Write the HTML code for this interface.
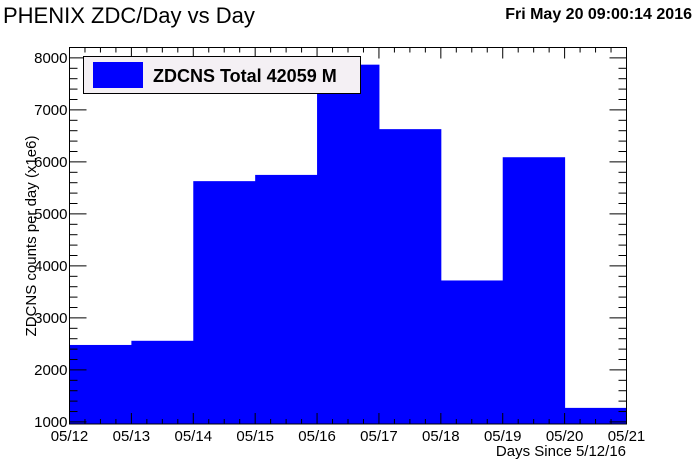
<!DOCTYPE html>
<html><head><meta charset="utf-8"><style>
body{margin:0;background:#fff;}
svg{display:block;font-family:"Liberation Sans",Arial,sans-serif;}
</style></head><body>
<svg id="c" width="696" height="472" viewBox="0 0 696 472">
<rect width="696" height="472" fill="#fff"/>
<text x="3" y="23" font-size="22">PHENIX ZDC/Day vs Day</text>
<text x="692" y="19" font-size="16" font-weight="bold" text-anchor="end">Fri May 20 09:00:14 2016</text>
<g id="bars"></g>
<g id="axes"></g>
<g>
<rect x="83.5" y="56.5" width="277" height="37" fill="#f4f0f4" stroke="#000" stroke-width="1"/>
<rect x="93" y="62" width="50" height="26" fill="#0000ff"/>
<text x="153" y="82" font-size="18" font-weight="bold">ZDCNS Total 42059 M</text>
</g>
<text transform="translate(36,236) rotate(-90)" font-size="15" text-anchor="middle">ZDCNS counts per day (x1e6)</text>
<text x="626" y="456" font-size="15" text-anchor="end">Days Since 5/12/16</text>
</svg>
<script>
const dayLabels=["05/12","05/13","05/14","05/15","05/16","05/17","05/18","05/19","05/20","05/21"];
const values=[2480,2560,5630,5750,7870,6630,3720,6090,1270];
const yTicks=[1000,2000,3000,4000,5000,6000,7000,8000];
const L=69.5,R=626.5,T=47.5,B=424,yMin=960,yMax=8200;
const NS="http://www.w3.org/2000/svg";
const xs=i=>L+i*(R-L)/values.length;
const ys=v=>B-(v-yMin)*(B-T)/(yMax-yMin);
function mk(tag,at,parent){const e=document.createElementNS(NS,tag);for(const k in at)e.setAttribute(k,at[k]);parent.appendChild(e);return e;}
const bars=document.getElementById('bars'),axes=document.getElementById('axes');
values.forEach((v,i)=>{
 const r=mk('rect',{x:xs(i),y:ys(v),width:xs(i+1)-xs(i)+0.5,height:B-ys(v),fill:'#0000ff'},bars);
 
 
});
mk('rect',{x:L,y:T,width:R-L,height:B-T,fill:'none',stroke:'#000','stroke-width':1},axes);
for(let i=0;i<values.length;i++){
 for(let j=0;j<4;j++){
  const x=xs(i)+j*(xs(i+1)-xs(i))/4, len=j==0?11:5;
  mk('line',{x1:x,x2:x,y1:B,y2:B-len,stroke:'#000'},axes);
  mk('line',{x1:x,x2:x,y1:T,y2:T+len,stroke:'#000'},axes);
 }
}
dayLabels.forEach((d,i)=>{
 const t=mk('text',{x:xs(i),y:B+17,'font-size':15,'text-anchor':'middle'},axes);
 t.textContent=d;
 
 
});
for(let v=yTicks[0]-1000;v<=yMax;v+=200){
 if(v<yMin)continue;
 const y=ys(v),len=(v%1000==0)?17:8;
 mk('line',{x1:L,x2:L+len,y1:y,y2:y,stroke:'#000'},axes);
 mk('line',{x1:R,x2:R-len,y1:y,y2:y,stroke:'#000'},axes);
}
yTicks.forEach(v=>{
 const t=mk('text',{x:L-2,y:ys(v)+5,'font-size':15,'text-anchor':'end'},axes);
 t.textContent=v;
 
 
});
</script>
</body></html>
